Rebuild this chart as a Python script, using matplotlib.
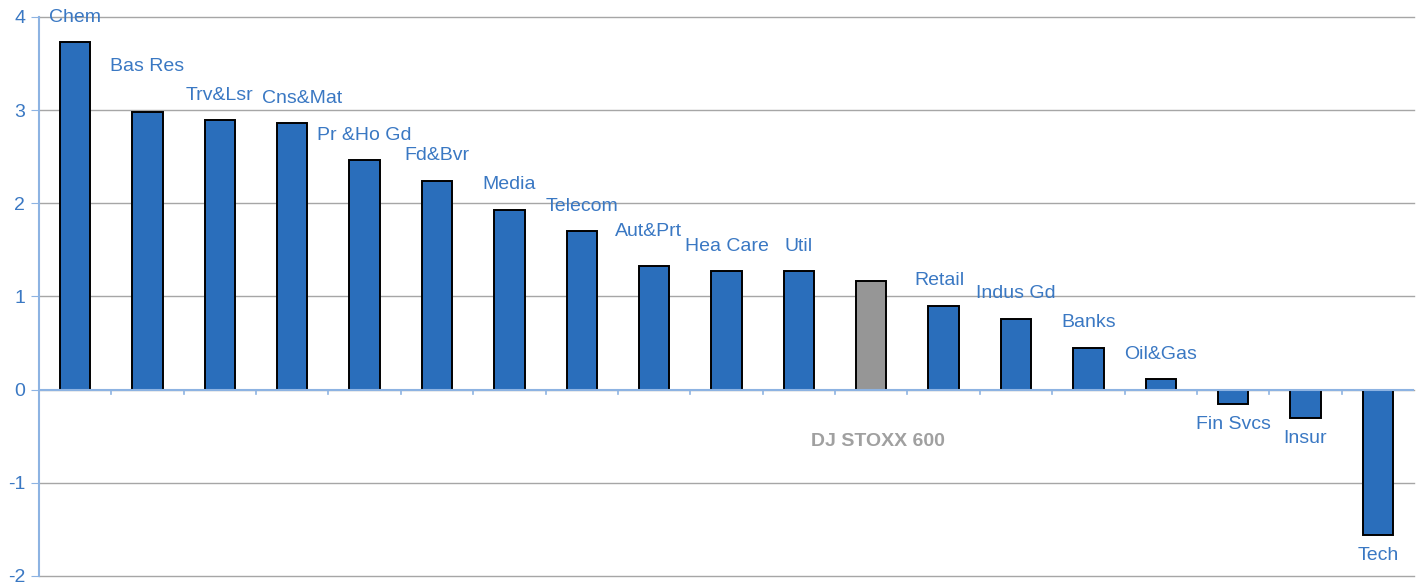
import numpy as np
import matplotlib.pyplot as plt

# Sector performance, %
sectors = ['Chem', 'Bas Res', 'Trv&Lsr', 'Cns&Mat', 'Pr &Ho Gd', 'Fd&Bvr', 'Media',
           'Telecom', 'Aut&Prt', 'Hea Care', 'Util', 'DJ STOXX 600', 'Retail',
           'Indus Gd', 'Banks', 'Oil&Gas', 'Fin Svcs', 'Insur', 'Tech']
values = [3.73, 2.98, 2.89, 2.86, 2.46, 2.24, 1.93, 1.70, 1.33, 1.27, 1.27, 1.17,
          0.90, 0.76, 0.45, 0.11, -0.15, -0.30, -1.56]
benchmark = 'DJ STOXX 600'
y_ticks = [-2, -1, 0, 1, 2, 3, 4]

blue = '#2a6ebb'
text_blue = '#3a78c3'
axis_blue = '#8db3e2'

plt.rcParams['font.family'] = ['Liberation Sans', 'DejaVu Sans']

fig = plt.figure(figsize=(14.2, 5.85), dpi=100)
ax = fig.add_axes([39 / 1420, 9 / 585, 1375 / 1420, 559 / 585])

x = np.arange(len(sectors))
colors = ['#969696' if s == benchmark else blue for s in sectors]
ax.bar(x, values, width=0.42, color=colors, edgecolor='black', linewidth=1.4, zorder=3)

ax.set_xlim(-0.5, len(sectors) - 0.5)
ax.set_ylim(-2, 4)
ax.set_yticks(y_ticks)
ax.set_yticklabels([str(t) for t in y_ticks], color=text_blue, fontsize=14)
ax.tick_params(axis='y', length=6, color=axis_blue, pad=4)
ax.grid(axis='y', color='#a6a6a6', linewidth=1, zorder=0, clip_on=False)
ax.set_xticks([])
for side in ['top', 'right', 'bottom']:
    ax.spines[side].set_visible(False)
ax.spines['left'].set_color(axis_blue)
ax.spines['left'].set_linewidth(1.5)

# zero line with small ticks between categories
ax.axhline(0, color=axis_blue, linewidth=1.5, zorder=4)
for b in np.arange(0.5, len(sectors) - 0.5):
    ax.plot([b, b], [0, -0.05], color=axis_blue, linewidth=1.2, zorder=4)

# a few labels sit higher than the rest
extra_up = {'Bas Res': 15, 'Aut&Prt': 7}
extra_dx = {'Cns&Mat': 7, 'Retail': -3, 'Aut&Prt': -4}

for xi, v, s in zip(x, values, sectors):
    if s == benchmark:
        ax.annotate(s, (xi, 0), xytext=(5, -37), textcoords='offset points',
                    ha='center', va='center', color='#a0a0a0', fontsize=14,
                    fontweight='bold')
        continue
    dx = extra_dx.get(s, 0)
    if v >= 0:
        dy = 18 + extra_up.get(s, 0)
    else:
        dy = -15
    ax.annotate(s, (xi, v), xytext=(dx, dy), textcoords='offset points',
                ha='center', va='center', color=text_blue, fontsize=14,
                annotation_clip=False)

fig.savefig('out.png', dpi=100)
